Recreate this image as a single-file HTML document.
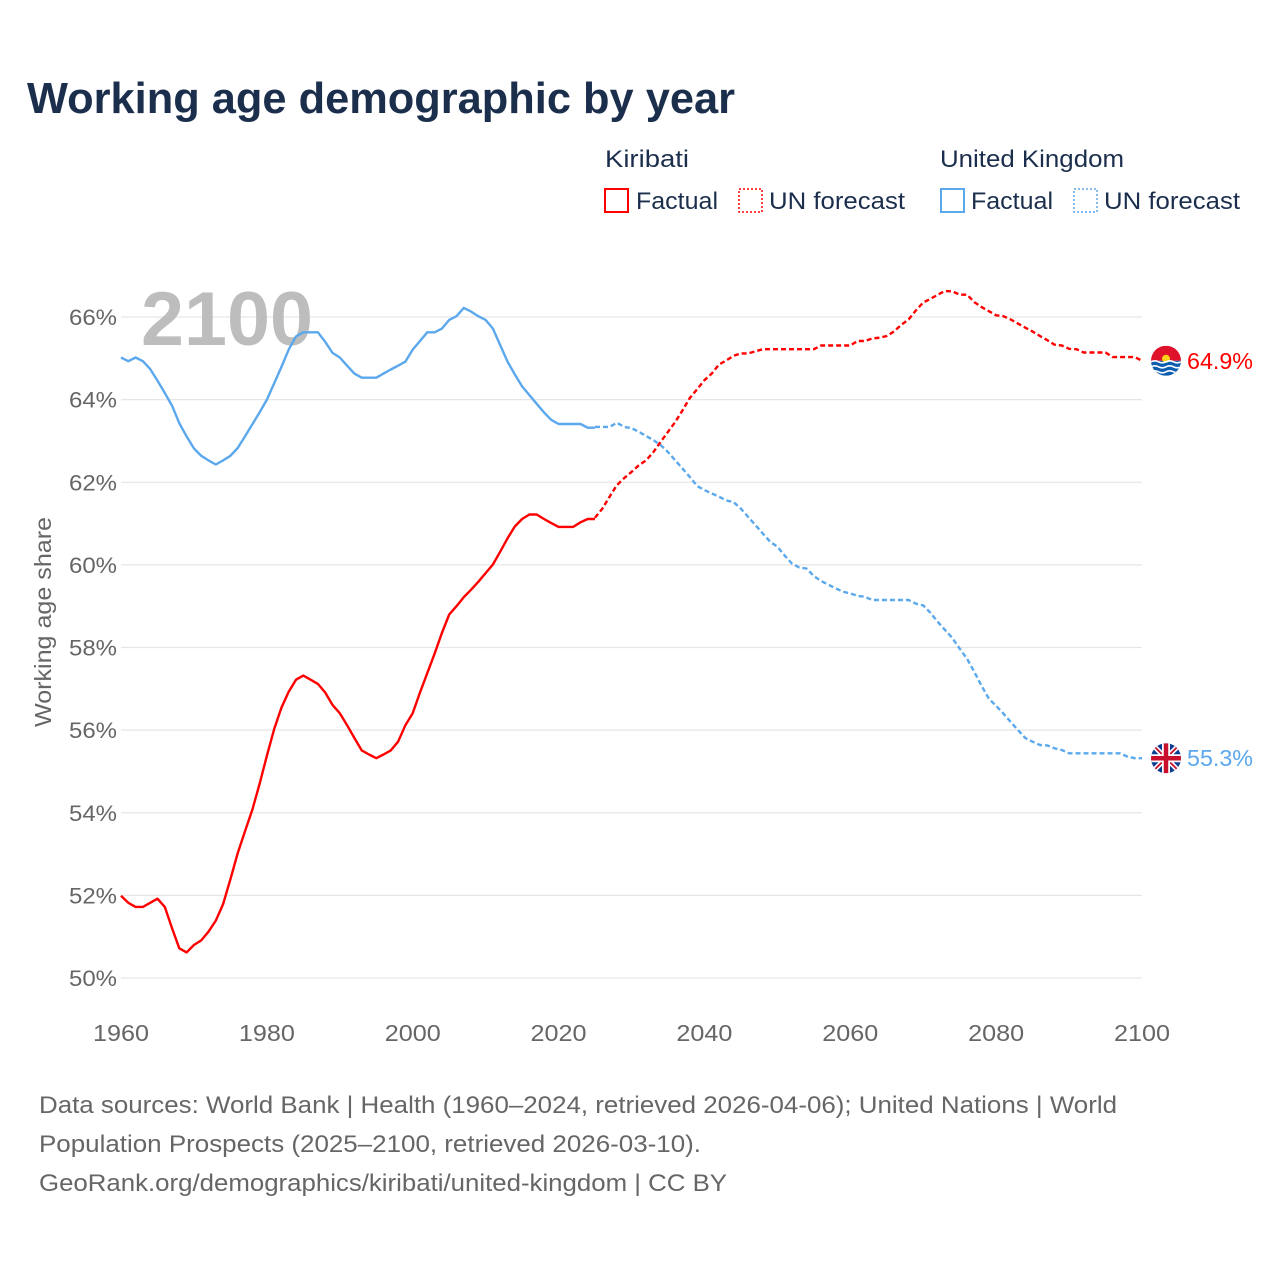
<!DOCTYPE html>
<html><head><meta charset="utf-8"><style>
body{margin:0;background:#fff;}
svg{display:block;font-family:"Liberation Sans",sans-serif;}
</style></head><body>
<svg id="chart" width="1280" height="1280" viewBox="0 0 1280 1280" xmlns="http://www.w3.org/2000/svg">
<rect width="1280" height="1280" fill="#fff"/>
<text x="27" y="113" font-size="44" font-weight="bold" fill="#1b2f4d" textLength="708" lengthAdjust="spacingAndGlyphs">Working age demographic by year</text>
<g font-size="24" fill="#1b2f4d">
<text x="605" y="167" textLength="84" lengthAdjust="spacingAndGlyphs">Kiribati</text>
<text x="940" y="167" textLength="184" lengthAdjust="spacingAndGlyphs">United Kingdom</text>
<g><rect x="605" y="189" width="23" height="23" fill="none" stroke="#f00" stroke-width="2"/><text x="636" y="209" textLength="82" lengthAdjust="spacingAndGlyphs">Factual</text></g>
<g><rect x="739" y="189" width="23" height="23" fill="none" stroke="#f00" stroke-width="1.5" stroke-dasharray="2,2"/><text x="769" y="209" textLength="136" lengthAdjust="spacingAndGlyphs">UN forecast</text></g>
<g><rect x="941" y="189" width="23" height="23" fill="none" stroke="#5ba8ec" stroke-width="2"/><text x="971" y="209" textLength="82" lengthAdjust="spacingAndGlyphs">Factual</text></g>
<g><rect x="1074" y="189" width="23" height="23" fill="none" stroke="#5ba8ec" stroke-width="1.5" stroke-dasharray="2,2"/><text x="1104" y="209" textLength="136" lengthAdjust="spacingAndGlyphs">UN forecast</text></g>
</g>
<g id="grid"></g>
<text x="141" y="345" font-size="76" font-weight="bold" fill="#bdbdbd" textLength="172" lengthAdjust="spacingAndGlyphs">2100</text>
<g id="yticks" font-size="22" fill="#666" text-anchor="end"></g>
<g id="xticks" font-size="23" fill="#666" text-anchor="middle"></g>
<text transform="translate(51,622) rotate(-90)" font-size="23" fill="#666" text-anchor="middle" textLength="210" lengthAdjust="spacingAndGlyphs">Working age share</text>
<g id="series"></g>
<g font-size="24" fill="#666">
<text x="39" y="1113" textLength="1078" lengthAdjust="spacingAndGlyphs">Data sources: World Bank | Health (1960–2024, retrieved 2026-04-06); United Nations | World</text>
<text x="39" y="1152" textLength="662" lengthAdjust="spacingAndGlyphs">Population Prospects (2025–2100, retrieved 2026-03-10).</text>
<text x="39" y="1191" textLength="688" lengthAdjust="spacingAndGlyphs">GeoRank.org/demographics/kiribati/united-kingdom | CC BY</text>
</g>
</svg>
<script>
const yTicks=[50,52,54,56,58,60,62,64,66];
const xTicks=[1960,1980,2000,2020,2040,2060,2080,2100];
const kiriFactYears=[];for(let y=1960;y<=2025;y++)kiriFactYears.push(y);
const kiriFactual=[51.99,51.82,51.72,51.72,51.82,51.92,51.72,51.2,50.72,50.62,50.8,50.91,51.12,51.39,51.79,52.39,53.02,53.55,54.07,54.7,55.38,56.02,56.54,56.93,57.22,57.32,57.22,57.12,56.91,56.61,56.41,56.12,55.81,55.51,55.41,55.32,55.41,55.51,55.72,56.12,56.41,56.91,57.38,57.85,58.35,58.8,59.0,59.22,59.4,59.59,59.8,60.01,60.32,60.64,60.93,61.11,61.22,61.22,61.11,61.01,60.92,60.92,60.92,61.03,61.11,61.11];
const ukFactual=[65.02,64.93,65.02,64.93,64.74,64.46,64.16,63.85,63.43,63.11,62.82,62.64,62.53,62.43,62.53,62.64,62.83,63.11,63.4,63.69,64.0,64.39,64.79,65.21,65.53,65.63,65.63,65.63,65.4,65.13,65.02,64.82,64.63,64.53,64.53,64.53,64.63,64.73,64.82,64.92,65.21,65.42,65.63,65.63,65.72,65.93,66.02,66.22,66.13,66.02,65.93,65.72,65.32,64.92,64.61,64.32,64.11,63.9,63.69,63.51,63.41,63.41,63.41,63.41,63.32,63.32];
const foreYears=[];for(let y=2025;y<=2100;y++)foreYears.push(y);
const kiriForecast=[61.14,61.36,61.65,61.93,62.1,62.25,62.41,62.53,62.73,62.98,63.22,63.46,63.74,64.04,64.25,64.47,64.63,64.85,64.95,65.06,65.12,65.12,65.17,65.22,65.22,65.22,65.22,65.22,65.22,65.22,65.22,65.31,65.31,65.31,65.31,65.31,65.42,65.42,65.48,65.5,65.54,65.65,65.81,65.94,66.16,66.35,66.44,66.54,66.63,66.62,66.54,66.54,66.36,66.24,66.14,66.04,66.02,65.94,65.84,65.74,65.65,65.54,65.44,65.33,65.31,65.23,65.22,65.14,65.14,65.14,65.14,65.03,65.03,65.03,65.03,64.94];
const ukForecast=[63.34,63.34,63.34,63.44,63.34,63.31,63.22,63.12,63.02,62.9,62.73,62.53,62.33,62.13,61.91,61.81,61.73,61.65,61.56,61.52,61.36,61.16,60.96,60.76,60.56,60.44,60.23,60.03,59.94,59.91,59.73,59.61,59.52,59.43,59.35,59.31,59.25,59.23,59.15,59.15,59.15,59.15,59.15,59.15,59.06,59.02,58.84,58.62,58.42,58.23,57.97,57.73,57.41,57.07,56.76,56.59,56.4,56.2,56.0,55.81,55.72,55.64,55.63,55.56,55.52,55.44,55.44,55.44,55.44,55.44,55.44,55.44,55.44,55.36,55.32,55.32];
const endLabels=["64.9%","55.3%"];

const NS="http://www.w3.org/2000/svg";
const X=yr=>121+(yr-1960)*(1021/140);
const Y=v=>978-(v-50)*(661/16);
function mk(tag,attrs,parent){const e=document.createElementNS(NS,tag);for(const k in attrs)e.setAttribute(k,attrs[k]);parent.appendChild(e);return e;}
const grid=document.getElementById('grid'),yt=document.getElementById('yticks'),xt=document.getElementById('xticks'),ser=document.getElementById('series');
yTicks.forEach(v=>{
 const l=mk('line',{x1:121,x2:1142,y1:Y(v),y2:Y(v),stroke:'#e6e6e6','stroke-width':1.3},grid);
 
 
 const t=mk('text',{x:117,y:Y(v)+8,textLength:48,lengthAdjust:'spacingAndGlyphs'},yt);t.textContent=v+'%';
 
 
});
xTicks.forEach(v=>{
 const t=mk('text',{x:X(v),y:1041,textLength:56,lengthAdjust:'spacingAndGlyphs'},xt);t.textContent=v;
 
 
});
function line(years,vals,color,dash,name){
 const d=vals.map((v,i)=>(i?'L':'M')+X(years[i]).toFixed(1)+','+Y(v).toFixed(1)).join('');
 const p=mk('path',{d:d,fill:'none',stroke:color,'stroke-width':2.4,'stroke-linejoin':'round'},ser);
 if(dash)p.setAttribute('stroke-dasharray','5,3');
 
 
}
line(kiriFactYears,ukFactual,'#5ba8ec',false,'uk-factual-line');
line(foreYears,ukForecast,'#5ba8ec',true,'uk-forecast-line');
line(kiriFactYears,kiriFactual,'#f00',false,'kiribati-factual-line');
line(foreYears,kiriForecast,'#f00',true,'kiribati-forecast-line');

const kLast=kiriForecast[kiriForecast.length-1],uLast=ukForecast[ukForecast.length-1];
const fx=1166;
const kg=mk('g',{},ser);


const ky=Y(kLast);
const kc=mk('clipPath',{id:'kc'},kg);mk('circle',{cx:fx,cy:ky,r:15},kc);
const kin=mk('g',{'clip-path':'url(#kc)'},kg);
mk('rect',{x:fx-15,y:ky-15,width:30,height:15,fill:'#e0112b'},kin);
mk('rect',{x:fx-15,y:ky,width:30,height:15,fill:'#0d5eaf'},kin);
mk('circle',{cx:fx,cy:ky-2,r:4,fill:'#fcd116'},kin);
[1,6,11].forEach(o=>mk('path',{d:`M${fx-15},${ky+o} q3.75,-2 7.5,0 t7.5,0 t7.5,0 t7.5,0`,stroke:'#fff','stroke-width':1.6,fill:'none'},kin));
const kt=mk('text',{x:1187,y:ky+8,'font-size':23,fill:'#f00',textLength:66,lengthAdjust:'spacingAndGlyphs'},ser);kt.textContent=endLabels[0];



const ug=mk('g',{},ser);


const uy=Y(uLast);
const uc=mk('clipPath',{id:'uc'},ug);mk('circle',{cx:fx,cy:uy,r:15},uc);
const uin=mk('g',{'clip-path':'url(#uc)'},ug);
mk('rect',{x:fx-15,y:uy-15,width:30,height:30,fill:'#0a3d91'},uin);
mk('path',{d:`M${fx-15},${uy-15}L${fx+15},${uy+15}M${fx+15},${uy-15}L${fx-15},${uy+15}`,stroke:'#fff','stroke-width':5},uin);
mk('path',{d:`M${fx-15},${uy-15}L${fx+15},${uy+15}M${fx+15},${uy-15}L${fx-15},${uy+15}`,stroke:'#c8102e','stroke-width':1.8},uin);
mk('path',{d:`M${fx},${uy-15}V${uy+15}M${fx-15},${uy}H${fx+15}`,stroke:'#fff','stroke-width':8},uin);
mk('path',{d:`M${fx},${uy-15}V${uy+15}M${fx-15},${uy}H${fx+15}`,stroke:'#c8102e','stroke-width':4.5},uin);
const ut=mk('text',{x:1187,y:uy+8,'font-size':23,fill:'#5ba8ec',textLength:66,lengthAdjust:'spacingAndGlyphs'},ser);ut.textContent=endLabels[1];


</script>
</body></html>
